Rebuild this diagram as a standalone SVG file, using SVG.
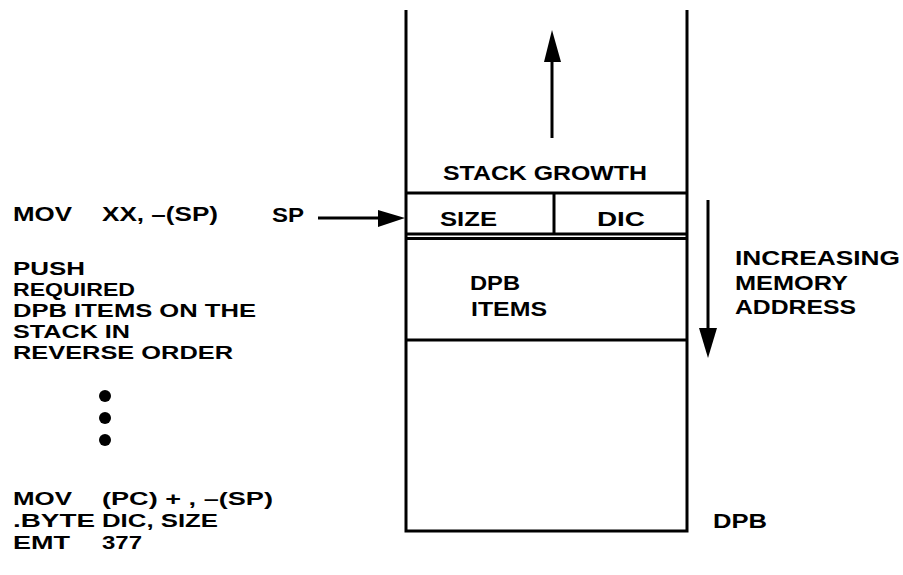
<svg xmlns="http://www.w3.org/2000/svg" width="903" height="575" viewBox="0 0 903 575">
<style>
text{font-family:"Liberation Sans",Arial,sans-serif;font-weight:bold;font-size:21px;fill:#000}
text.s{font-size:18.5px}
.ln{stroke:#000;stroke-width:3;fill:none}
.ar{fill:#000;stroke:none}
</style>
<rect width="903" height="575" fill="#fff"/>
<g id="stack">
<path class="ln" d="M406 10V531H687V10"/>
<line class="ln" x1="406" y1="193" x2="687" y2="193"/>
<line class="ln" x1="406" y1="234" x2="687" y2="234"/>
<line class="ln" x1="406" y1="238.5" x2="687" y2="238.5"/>
<line class="ln" x1="406" y1="340" x2="687" y2="340"/>
<line class="ln" x1="554" y1="193" x2="554" y2="234"/>
<text x="443" y="180" textLength="204" lengthAdjust="spacingAndGlyphs">STACK GROWTH</text>
<text x="440" y="226" textLength="57" lengthAdjust="spacingAndGlyphs">SIZE</text>
<text x="597" y="226" textLength="48" lengthAdjust="spacingAndGlyphs">DIC</text>
<text x="470" y="290" textLength="50" lengthAdjust="spacingAndGlyphs">DPB</text>
<text x="471" y="316" textLength="76" lengthAdjust="spacingAndGlyphs">ITEMS</text>
</g>
<g id="labels">
<text x="13" y="221" textLength="59" lengthAdjust="spacingAndGlyphs">MOV</text>
<text x="102" y="221" textLength="116" lengthAdjust="spacingAndGlyphs">XX, –(SP)</text>
<text x="272" y="222" textLength="32" lengthAdjust="spacingAndGlyphs">SP</text>
<text class="s" x="13" y="275" textLength="72" lengthAdjust="spacingAndGlyphs">PUSH</text>
<text class="s" x="13" y="296" textLength="122" lengthAdjust="spacingAndGlyphs">REQUIRED</text>
<text class="s" x="13" y="317" textLength="243" lengthAdjust="spacingAndGlyphs">DPB ITEMS ON THE</text>
<text class="s" x="13" y="338" textLength="117" lengthAdjust="spacingAndGlyphs">STACK IN</text>
<text class="s" x="13" y="359" textLength="220" lengthAdjust="spacingAndGlyphs">REVERSE ORDER</text>
<circle cx="105" cy="396" r="6"/>
<circle cx="105" cy="418" r="6"/>
<circle cx="105" cy="440" r="6"/>
<text class="s" x="13" y="505" textLength="59" lengthAdjust="spacingAndGlyphs">MOV</text>
<text class="s" x="102" y="505" textLength="171" lengthAdjust="spacingAndGlyphs">(PC) + , –(SP)</text>
<text class="s" x="13" y="527" textLength="82" lengthAdjust="spacingAndGlyphs">.BYTE</text>
<text class="s" x="102" y="527" textLength="116" lengthAdjust="spacingAndGlyphs">DIC, SIZE</text>
<text class="s" x="13" y="549" textLength="57" lengthAdjust="spacingAndGlyphs">EMT</text>
<text class="s" x="102" y="549" textLength="40" lengthAdjust="spacingAndGlyphs">377</text>
<text x="735" y="265" textLength="165" lengthAdjust="spacingAndGlyphs">INCREASING</text>
<text x="735" y="290" textLength="113" lengthAdjust="spacingAndGlyphs">MEMORY</text>
<text x="735" y="314" textLength="121" lengthAdjust="spacingAndGlyphs">ADDRESS</text>
<text x="713" y="528" textLength="54" lengthAdjust="spacingAndGlyphs">DPB</text>
</g>
<g id="connectors">
<line class="ln" x1="552" y1="138" x2="552" y2="58"/>
<polygon class="ar" points="552,30 544,62 561,62"/>
<line class="ln" x1="708" y1="200" x2="708" y2="330"/>
<polygon class="ar" points="699,328 717,328 708,358"/>
<line class="ln" x1="318" y1="218" x2="385" y2="218"/>
<polygon class="ar" points="405,218 378,210 378,227"/>
</g>
</svg>
